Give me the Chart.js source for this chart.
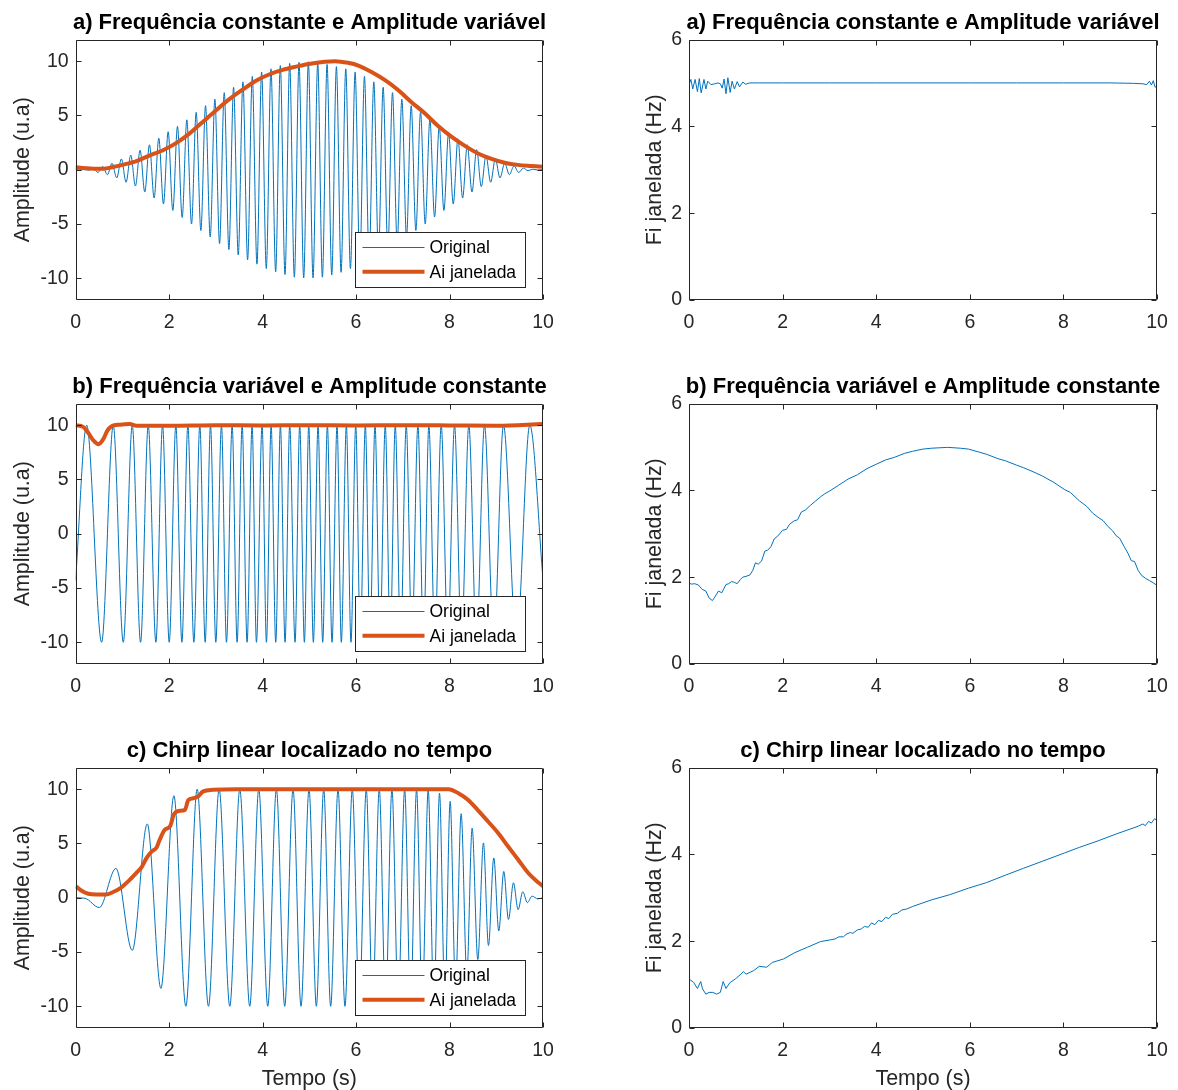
<!DOCTYPE html>
<html>
<head>
<meta charset="utf-8">
<script src="https://cdn.jsdelivr.net/npm/chart.js@4.4.0/dist/chart.umd.min.js"></script>
<style>
  body { margin: 0; background: #fff; width: 1178px; height: 1090px; overflow: hidden; position: relative; }
  canvas { position: absolute; }
</style>
</head>
<body>
<canvas id="ampA" width="619" height="340" style="left:0;top:0"></canvas>
<canvas id="freqA" width="646" height="340" style="left:600px;top:0"></canvas>
<canvas id="ampB" width="619" height="340" style="left:0;top:364px"></canvas>
<canvas id="freqB" width="646" height="340" style="left:600px;top:364px"></canvas>
<canvas id="ampC" width="619" height="362" style="left:0;top:728px"></canvas>
<canvas id="freqC" width="646" height="362" style="left:600px;top:728px"></canvas>
<script>
// tick positions
var timeTicks = [0, 2, 4, 6, 8, 10];
var ampTicks = [-10, -5, 0, 5, 10];
var freqTicks = [0, 2, 4, 6];

var titles = [
  'a) Frequência constante e Amplitude variável',
  'b) Frequência variável e Amplitude constante',
  'c) Chirp linear localizado no tempo'
];
var seriesNames = ['Original', 'Ai janelada'];

// a) original signal, taken at its peaks and troughs
var sigTimeA = [0, 0.08, 0.18, 0.28, 0.38, 0.48, 0.58, 0.68, 0.78, 0.88, 0.98,
  1.08, 1.18, 1.28, 1.38, 1.48, 1.58, 1.68, 1.78, 1.88, 1.98,
  2.08, 2.18, 2.28, 2.38, 2.48, 2.58, 2.68, 2.78, 2.88, 2.98,
  3.08, 3.18, 3.28, 3.38, 3.48, 3.58, 3.68, 3.78, 3.88, 3.98,
  4.08, 4.18, 4.28, 4.38, 4.48, 4.58, 4.68, 4.78, 4.88, 4.98,
  5.08, 5.18, 5.28, 5.38, 5.48, 5.58, 5.68, 5.78, 5.88, 5.98,
  6.08, 6.18, 6.28, 6.38, 6.48, 6.58, 6.68, 6.78, 6.88, 6.98,
  7.08, 7.18, 7.28, 7.38, 7.48, 7.58, 7.68, 7.78, 7.88, 7.98,
  8.08, 8.18, 8.28, 8.38, 8.48, 8.58, 8.68, 8.78, 8.88, 8.98,
  9.08, 9.18, 9.28, 9.38, 9.48, 9.58, 9.68, 9.78, 9.88, 9.98, 10];
var sigValA = [0, -0.01, 0.02, -0.04, 0.08, -0.25, 0.3, -0.45, 0.6, -0.75, 1.0,
  -1.15, 1.35, -1.5, 1.8, -2.05, 2.3, -2.6, 2.9, -3.15, 3.5,
  -3.75, 4.0, -4.4, 4.6, -5.0, 5.3, -5.6, 5.9, -6.2, 6.5,
  -6.8, 7.1, -7.35, 7.6, -7.85, 8.1, -8.3, 8.6, -8.7, 9.0,
  -9.1, 9.3, -9.4, 9.6, -9.65, 9.8, -9.9, 9.9, -9.97, 9.95,
  -9.97, 9.85, -9.9, 9.7, -9.7, 9.5, -9.45, 9.3, -9.1, 9.0,
  -8.75, 8.6, -8.35, 8.1, -7.85, 7.6, -7.35, 7.1, -6.8, 6.5,
  -6.2, 5.9, -5.6, 5.3, -5.0, 4.6, -4.35, 4.0, -3.75, 3.4,
  -3.15, 2.85, -2.6, 2.3, -2.05, 1.85, -1.55, 1.3, -1.15, 1.0,
  -0.75, 0.6, -0.45, 0.35, -0.25, 0.15, -0.08, 0.05, -0.02, 0.01, 0];
// a) windowed amplitude
var envTimeA = [0, 0.44, 0.6, 0.8, 1.0, 1.3, 1.58, 1.87, 2.15, 2.44, 2.72, 3.0, 3.29, 3.58, 3.86, 4.15, 4.43, 4.72, 4.99,
  5.33, 5.55, 5.83, 6.05, 6.33, 6.62, 6.9, 7.18, 7.47, 7.75, 8.04, 8.33, 8.61, 8.9, 9.18, 9.46, 9.75, 10];
var envValA = [0.22, 0.1, 0.1, 0.25, 0.45, 0.8, 1.3, 1.8, 2.45, 3.35, 4.4, 5.45, 6.5, 7.4, 8.2, 8.8, 9.2, 9.5, 9.75,
  9.95, 10, 9.85, 9.6, 9.0, 8.25, 7.35, 6.25, 5.2, 4.05, 3.05, 2.2, 1.5, 1.0, 0.65, 0.45, 0.35, 0.28];
// a) windowed frequency (Hz)
var fqTimeA = [0, 0.04, 0.08, 0.13, 0.18, 0.22, 0.26, 0.32, 0.36, 0.4, 0.47, 0.55, 0.62, 0.67, 0.71, 0.75, 0.79, 0.83,
  0.88, 0.92, 0.97, 1.03, 1.08, 1.15, 1.21, 1.3, 1.5, 2, 3, 4, 5, 6, 7, 8, 9, 9.5, 9.7, 9.78, 9.84, 9.88, 9.92, 9.96, 10];
var fqValA = [4.96, 5.08, 4.86, 5.08, 4.8, 5.1, 4.77, 5.08, 4.86, 5.04, 4.96, 4.98, 5.0, 4.98, 4.88, 5.09, 4.75, 5.12,
  4.78, 5.04, 4.86, 5.03, 4.91, 5.02, 4.97, 5.0, 5.0, 5.0, 5.0, 5.0, 5.0, 5.0, 5.0, 5.0, 5.0, 4.99, 4.98, 4.96, 5.04, 4.95, 5.05, 4.9, 4.93];

// b) original signal, peaks and troughs
var sigTimeB = [0, 0.237, 0.557, 0.806, 1.02, 1.212, 1.39, 1.554, 1.718, 1.86, 2.003,
  2.145, 2.274, 2.402, 2.53, 2.658, 2.772, 2.886, 3.0, 3.121, 3.228,
  3.349, 3.456, 3.563, 3.669, 3.776, 3.869, 3.99, 4.083, 4.183, 4.282,
  4.382, 4.481, 4.581, 4.695, 4.795, 4.895, 4.988, 5.087, 5.187, 5.287,
  5.387, 5.486, 5.594, 5.685, 5.793, 5.892, 5.993, 6.092, 6.199, 6.298,
  6.406, 6.512, 6.625, 6.732, 6.839, 6.953, 7.074, 7.195, 7.324, 7.444,
  7.558, 7.686, 7.822, 7.964, 8.107, 8.256, 8.413, 8.577, 8.748, 8.947,
  9.154, 9.432, 9.717, 10];
var sigValB = [-4.3, 10, -10, 10, -10, 10, -10, 10, -10, 10, -10,
  10, -10, 10, -10, 10, -10, 10, -10, 10, -10,
  10, -10, 10, -10, 10, -10, 10, -10, 10, -10,
  10, -10, 10, -10, 10, -10, 10, -10, 10, -10,
  10, -10, 10, -10, 10, -10, 10, -10, 10, -10,
  10, -10, 10, -10, 10, -10, 10, -10, 10, -10,
  10, -10, 10, -10, 10, -10, 10, -10, 10, -10,
  10, -10, 10, -4.2];
var envTimeB = [0, 0.16, 0.27, 0.38, 0.49, 0.59, 0.68, 0.77, 0.95, 1.16, 1.3, 2, 3, 4, 5, 6, 7, 8, 9, 10];
var envValB = [10, 9.85, 9.3, 8.6, 8.25, 8.7, 9.5, 9.9, 10.05, 10.1, 9.95, 9.95, 10, 9.98, 10, 9.97, 10, 9.98, 9.95, 10.1];
var fqTimeB = [0, 0.06, 0.12, 0.2, 0.28, 0.36, 0.43, 0.5, 0.55, 0.63, 0.7, 0.79, 0.85, 0.91, 0.97, 1.03, 1.1, 1.15,
  1.22, 1.3, 1.36, 1.42, 1.48, 1.55, 1.62, 1.68, 1.75, 1.82, 1.9, 2.0, 2.08, 2.15, 2.25, 2.32, 2.4, 2.49, 2.6, 2.7,
  2.81, 2.9, 3.0, 3.2, 3.4, 3.6, 3.8, 4.0, 4.2, 4.39, 4.6, 4.78, 5.0, 5.18, 5.53, 5.8, 5.97, 6.2, 6.36, 6.6, 6.76,
  7.0, 7.15, 7.35, 7.55, 7.8, 8.02, 8.15, 8.34, 8.5, 8.62, 8.74, 8.85, 8.95, 9.05, 9.13, 9.2, 9.3, 9.38, 9.45, 9.52,
  9.6, 9.68, 9.76, 9.84, 9.92, 10];
var fqValB = [1.86, 1.84, 1.85, 1.82, 1.72, 1.68, 1.52, 1.46, 1.54, 1.68, 1.64, 1.83, 1.85, 1.9, 1.88, 1.85, 1.95, 2.0,
  2.02, 2.05, 2.15, 2.33, 2.3, 2.37, 2.6, 2.62, 2.7, 2.88, 2.95, 3.08, 3.1, 3.22, 3.3, 3.32, 3.5, 3.55, 3.66, 3.75,
  3.85, 3.92, 3.98, 4.12, 4.26, 4.36, 4.5, 4.6, 4.7, 4.76, 4.85, 4.9, 4.95, 4.97, 4.99, 4.97, 4.95, 4.88, 4.83, 4.73, 4.68,
  4.58, 4.52, 4.43, 4.33, 4.18, 4.02, 3.95, 3.76, 3.63, 3.48, 3.38, 3.3, 3.17, 3.07, 2.95, 2.9, 2.7, 2.55, 2.38, 2.36,
  2.15, 2.03, 1.97, 1.92, 1.87, 1.81];

// c) linear chirp, peaks and troughs
var sigTimeC = [0, 0.2, 0.507, 0.863, 1.212, 1.533, 1.825, 2.103, 2.359, 2.601, 2.843,
  3.071, 3.299, 3.513, 3.726, 3.919, 4.111, 4.296, 4.474, 4.652, 4.823,
  4.994, 5.151, 5.308, 5.457, 5.615, 5.763, 5.92, 6.07, 6.219, 6.355,
  6.497, 6.632, 6.768, 6.903, 7.04, 7.167, 7.295, 7.416, 7.544, 7.665,
  7.786, 7.9, 8.014, 8.128, 8.249, 8.37, 8.484, 8.605, 8.726, 8.833,
  8.947, 9.054, 9.161, 9.261, 9.368, 9.467, 9.567, 9.667, 9.766, 9.887, 10];
var sigValC = [0, -0.05, -0.9, 2.7, -4.85, 6.8, -8.35, 9.4, -10, 10, -10,
  10, -10, 10, -10, 10, -10, 10, -10, 10, -10,
  10, -10, 10, -10, 10, -10, 10, -10, 10, -10,
  10, -10, 10, -10, 10, -10, 10, -10, 9.95, -9.9,
  9.63, -9.3, 8.87, -8.3, 7.74, -7.1, 6.42, -5.7, 5.05, -4.4,
  3.67, -3.05, 2.42, -2.0, 1.38, -1.1, 0.55, -0.45, 0.15, -0.1, 0];
var envTimeC = [0, 0.12, 0.27, 0.45, 0.66, 0.77, 0.95, 1.13, 1.3, 1.41, 1.52, 1.63, 1.73, 1.8, 1.91, 2.02, 2.1, 2.2,
  2.34, 2.41, 2.52, 2.62, 2.73, 2.94, 3.44, 4, 5, 6, 7, 7.98, 8.19, 8.4, 8.6, 8.83, 9.04, 9.25, 9.47, 9.68, 9.9, 10];
var envValC = [1.07, 0.67, 0.37, 0.3, 0.3, 0.46, 0.86, 1.53, 2.3, 2.8, 3.67, 4.28, 4.6, 5.35, 6.27, 6.57, 7.65, 8.0,
  8.1, 9.0, 9.17, 9.33, 9.8, 9.94, 10, 10, 10, 10, 10, 10, 9.63, 9.0, 8.1, 7.0, 5.96, 4.74, 3.5, 2.3, 1.4, 1.07];
var fqTimeC = [0, 0.1, 0.18, 0.25, 0.29, 0.36, 0.43, 0.51, 0.59, 0.67, 0.73, 0.79, 0.87, 0.99, 1.11, 1.16, 1.22, 1.38,
  1.5, 1.66, 1.78, 2.02, 2.25, 2.53, 2.81, 3.12, 3.2, 3.3, 3.36, 3.45, 3.5, 3.6, 3.68, 3.75, 3.83, 3.9, 3.97, 4.05,
  4.12, 4.2, 4.27, 4.35, 4.45, 4.55, 4.65, 4.78, 5.18, 5.57, 5.97, 6.36, 6.76, 7.15, 7.55, 8.02, 8.34, 8.74, 9.13,
  9.53, 9.6, 9.7, 9.75, 9.82, 9.88, 9.95, 10];
var fqValC = [1.13, 1.05, 0.91, 1.07, 0.9, 0.78, 0.82, 0.82, 0.78, 0.82, 1.07, 0.91, 1.04, 1.13, 1.24, 1.3, 1.24, 1.32,
  1.42, 1.4, 1.51, 1.59, 1.73, 1.86, 1.99, 2.05, 2.1, 2.1, 2.16, 2.2, 2.18, 2.26, 2.28, 2.34, 2.32, 2.42, 2.38, 2.48,
  2.45, 2.55, 2.52, 2.62, 2.64, 2.72, 2.74, 2.8, 2.95, 3.07, 3.22, 3.35, 3.52, 3.68, 3.84, 4.03, 4.16, 4.31, 4.47,
  4.62, 4.65, 4.7, 4.66, 4.76, 4.72, 4.82, 4.78];

var FONT = "'Liberation Sans', Arial, Helvetica, sans-serif";
var AXIS = '#262626';
var BLUE = '#0072BD';
var ORANGE = '#D95319';

function pts(xs, ys) {
  return xs.map(function (x, i) { return {x: x, y: ys[i]}; });
}

function fixedTicks(values) {
  return function (scale) {
    scale.ticks = values.map(function (v) { return {value: v}; });
  };
}

// axes box with inward ticks on all four sides
var framePlugin = {
  id: 'frame',
  afterDatasetsDraw: function (chart) {
    var a = chart.chartArea, ctx = chart.ctx, sx = chart.scales.x, sy = chart.scales.y;
    var L = Math.round(a.left) + 0.5, R = Math.round(a.right) - 0.5;
    var T = Math.round(a.top) + 0.5, B = Math.round(a.bottom) - 0.5;
    ctx.save();
    ctx.strokeStyle = AXIS;
    ctx.lineWidth = 1;
    ctx.beginPath();
    ctx.rect(L, T, R - L, B - T);
    sx.ticks.forEach(function (t) {
      var px = Math.round(sx.getPixelForValue(t.value)) + 0.5;
      ctx.moveTo(px, B); ctx.lineTo(px, B - 5);
      ctx.moveTo(px, T); ctx.lineTo(px, T + 5);
    });
    sy.ticks.forEach(function (t) {
      var py = Math.round(sy.getPixelForValue(t.value)) + 0.5;
      ctx.moveTo(L, py); ctx.lineTo(L + 5, py);
      ctx.moveTo(R, py); ctx.lineTo(R - 5, py);
    });
    ctx.stroke();
    ctx.restore();
  }
};

// legend box in the lower right corner of the plot
var legendPlugin = {
  id: 'boxLegend',
  afterDraw: function (chart) {
    var a = chart.chartArea, ctx = chart.ctx;
    var w = 170, h = 55;
    var left = Math.round(a.right - 18 - w) + 0.5;
    var top = Math.round(a.bottom - 13.5 - h) + 0.5;
    ctx.save();
    ctx.fillStyle = '#fff';
    ctx.fillRect(left, top, w, h);
    ctx.strokeStyle = AXIS;
    ctx.lineWidth = 1;
    ctx.strokeRect(left, top, w, h);
    ctx.font = '17.5px ' + FONT;
    ctx.textBaseline = 'middle';
    chart.data.datasets.forEach(function (ds, i) {
      var yy = top + 15 + i * 24.3;
      ctx.strokeStyle = ds.borderColor;
      ctx.lineWidth = ds.borderWidth;
      ctx.beginPath();
      ctx.moveTo(left + 7, yy);
      ctx.lineTo(left + 69, yy);
      ctx.stroke();
      ctx.fillStyle = '#000';
      ctx.fillText(ds.label, left + 74, yy + 1);
    });
    ctx.restore();
  }
};

// each canvas is wider than its plot so the title centres over the box;
// an empty right-hand axis takes up the spare width
function buildChart(id, cfg) {
  var el = document.getElementById(id);
  var boxLeft = cfg.left ? 75.6 : 89;
  var spareRight = el.width - (cfg.left ? 543 : 557);
  var xSpace = el.height - 300;
  return new Chart(el, {
    type: 'line',
    data: { datasets: cfg.datasets },
    options: {
      responsive: false,
      animation: false,
      devicePixelRatio: 1,
      layout: { padding: 0 },
      plugins: {
        legend: { display: false },
        tooltip: { enabled: false },
        title: {
          display: true,
          text: cfg.title,
          color: '#000',
          font: { family: FONT, size: 22, weight: 'bold', lineHeight: 1.2 },
          padding: { top: 9.6, bottom: 3.5 }
        }
      },
      scales: {
        x: {
          type: 'linear',
          min: 0,
          max: 10,
          afterBuildTicks: fixedTicks(timeTicks),
          afterFit: function (s) { s.height = xSpace; },
          grid: { display: false, drawTicks: false },
          border: { display: false },
          ticks: { color: AXIS, font: { family: FONT, size: 19.5 }, padding: 11, maxRotation: 0 },
          title: {
            display: !!cfg.xTitle,
            text: 'Tempo (s)',
            color: AXIS,
            font: { family: FONT, size: 21.4, lineHeight: 1 },
            padding: 0
          }
        },
        y: {
          type: 'linear',
          min: cfg.yMin,
          max: cfg.yMax,
          afterBuildTicks: fixedTicks(cfg.yTicks),
          afterFit: function (s) { s.width = boxLeft; },
          grid: { display: false, drawTicks: false },
          border: { display: false },
          ticks: { color: AXIS, font: { family: FONT, size: 19.5 }, padding: 7 },
          title: {
            display: true,
            text: cfg.yTitle,
            color: AXIS,
            font: { family: FONT, size: 21.4, lineHeight: 1.2 },
            padding: { top: cfg.left ? 10.2 : 42.2, bottom: 0 }
          }
        },
        yRight: {
          type: 'linear',
          position: 'right',
          afterFit: function (s) { s.width = spareRight; },
          grid: { display: false, drawTicks: false },
          border: { display: false },
          ticks: { display: false }
        }
      }
    },
    plugins: cfg.left ? [framePlugin, legendPlugin] : [framePlugin]
  });
}

function ampSets(st, sv, et, ev) {
  return [
    { label: seriesNames[0], data: pts(st, sv), borderColor: BLUE, borderWidth: 1, pointRadius: 0,
      cubicInterpolationMode: 'monotone', order: 1, clip: 0 },
    { label: seriesNames[1], data: pts(et, ev), borderColor: ORANGE, borderWidth: 4, pointRadius: 0,
      cubicInterpolationMode: 'monotone', order: 0, clip: 0 }
  ];
}

function freqSets(ft, fv) {
  return [
    { label: 'Fi', data: pts(ft, fv), borderColor: BLUE, borderWidth: 1, pointRadius: 0, tension: 0, clip: 0 }
  ];
}

var amp = { left: true, yMin: -12, yMax: 12, yTicks: ampTicks, yTitle: 'Amplitude (u.a)' };
var frq = { left: false, yMin: 0, yMax: 6, yTicks: freqTicks, yTitle: 'Fi janelada (Hz)' };

function extend(base, more) {
  return Object.assign({}, base, more);
}

buildChart('ampA', extend(amp, { title: titles[0], datasets: ampSets(sigTimeA, sigValA, envTimeA, envValA) }));
buildChart('freqA', extend(frq, { title: titles[0], datasets: freqSets(fqTimeA, fqValA) }));
buildChart('ampB', extend(amp, { title: titles[1], datasets: ampSets(sigTimeB, sigValB, envTimeB, envValB) }));
buildChart('freqB', extend(frq, { title: titles[1], datasets: freqSets(fqTimeB, fqValB) }));
buildChart('ampC', extend(amp, { title: titles[2], xTitle: true, datasets: ampSets(sigTimeC, sigValC, envTimeC, envValC) }));
buildChart('freqC', extend(frq, { title: titles[2], xTitle: true, datasets: freqSets(fqTimeC, fqValC) }));
</script>
</body>
</html>
